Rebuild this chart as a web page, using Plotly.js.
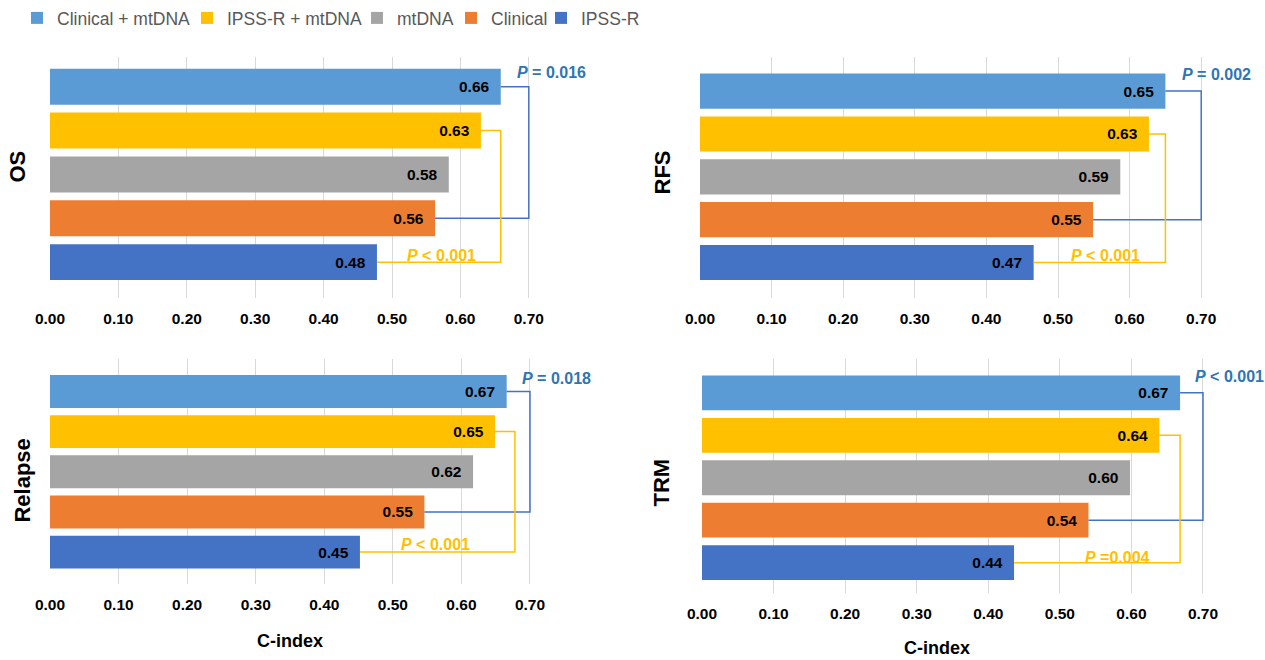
<!DOCTYPE html>
<html>
<head>
<meta charset="utf-8">
<script src="https://cdn.plot.ly/plotly-3.0.1.min.js"></script>
<style>html,body{margin:0;padding:0;background:#fff;}#chart{width:1265px;height:660px;}</style>
</head>
<body>
<div id="chart"></div>
<script>
// ---- data ----
const models = ["Clinical + mtDNA", "IPSS-R + mtDNA", "mtDNA", "Clinical", "IPSS-R"];
const modelColors = ["#5B9BD5", "#FFC000", "#A5A5A5", "#ED7D31", "#4472C4"];
const endpoints = ["OS", "RFS", "Relapse", "TRM"];
const osCindex      = [0.659, 0.630, 0.583, 0.563, 0.478];
const rfsCindex     = [0.650, 0.627, 0.587, 0.549, 0.466];
const relapseCindex = [0.666, 0.649, 0.617, 0.546, 0.452];
const trmCindex     = [0.668, 0.639, 0.598, 0.540, 0.436];
const pBlue   = ["= 0.016", "= 0.002", "= 0.018", "< 0.001"];   // Clinical+mtDNA vs Clinical
const pYellow = ["< 0.001", "< 0.001", "< 0.001", "=0.004"];   // IPSS-R+mtDNA vs IPSS-R
const blueBracketX   = [0.70, 0.70, 0.70, 0.70];
const yellowBracketX = [0.659, 0.650, 0.678, 0.668];
const tickVals = [0, 0.1, 0.2, 0.3, 0.4, 0.5, 0.6, 0.7];
const tickText = ["0.00","0.10","0.20","0.30","0.40","0.50","0.60","0.70"];
const allValues = [osCindex, rfsCindex, relapseCindex, trmCindex];

// ---- layout helpers (pixel geometry) ----
const W = 1265, H = 660;
const fx = p => p / W, fy = p => 1 - p / H;
const FONT = "Arial, 'Liberation Sans', sans-serif";
const panels = [
  {x0: 50,  ppu: 684,   top: 55,  bot: 297, yr: [4.82, -0.68], titleX: 17,  titleY: 165, cx: null},
  {x0: 700, ppu: 716,   top: 55,  bot: 297, yr: [4.83, -0.80], titleX: 662, titleY: 171, cx: null},
  {x0: 50,  ppu: 685.7, top: 358, bot: 584, yr: [4.80, -0.81], titleX: 23,  titleY: 480, cx: [290, 641]},
  {x0: 702, ppu: 715.7, top: 358, bot: 593, yr: [4.72, -0.80], titleX: 662, titleY: 482, cx: [937, 648]}
];
const pBluePos   = [[0.680, -0.32], [0.670, -0.38], [0.685, -0.31], [0.686, -0.38]];
const pYellowPos = [[0.626, 3.84], [0.617, 3.83], [0.615, 3.80], [0.629, 3.87]];
const legendSymbolCenterPx = [37, 207, 377, 471, 561];

const traces = [];
const layout = {
  width: W, height: H,
  margin: {l: 0, r: 0, t: 0, b: 0},
  paper_bgcolor: "#fff", plot_bgcolor: "#fff",
  barmode: "relative",
  font: {family: FONT, color: "#000"},
  showlegend: true,
  annotations: [],
  shapes: []
};
const legendIds = models.map((m, i) => i === 0 ? "legend" : "legend" + (i + 1));
legendIds.forEach((id, i) => {
  layout[id] = {orientation: "h", x: fx(legendSymbolCenterPx[i] - 20), y: 1.003, xanchor: "left", yanchor: "top",
    font: {family: FONT, size: 17.5, color: "#595959"}, itemwidth: 30, bgcolor: "rgba(0,0,0,0)",
    borderwidth: 0};
});

panels.forEach((p, k) => {
  const xa = k === 0 ? "x" : "x" + (k + 1);
  const ya = k === 0 ? "y" : "y" + (k + 1);
  const xKey = k === 0 ? "xaxis" : "xaxis" + (k + 1);
  const yKey = k === 0 ? "yaxis" : "yaxis" + (k + 1);
  const vals = allValues[k];
  const xmax = 0.75;
  layout[xKey] = {
    domain: [fx(p.x0), fx(p.x0 + xmax * p.ppu)], range: [0, xmax], anchor: ya,
    tickvals: tickVals, ticktext: tickText, showgrid: true, gridcolor: "#D9D9D9", gridwidth: 1,
    zeroline: false, showline: false, ticks: "outside", ticklen: 6, tickcolor: "rgba(0,0,0,0)",
    tickfont: {family: FONT, size: 15.5, color: "#000", weight: "bold"}, fixedrange: true
  };
  layout[yKey] = {
    domain: [fy(p.bot), fy(p.top)], range: p.yr, anchor: xa,
    showticklabels: false, showgrid: false, zeroline: false, showline: false, fixedrange: true
  };
  models.forEach((m, i) => {
    traces.push({
      type: "bar", orientation: "h", name: m, legendgroup: m, showlegend: k === 0, legend: legendIds[i],
      x: [vals[i]], y: [i], xaxis: xa, yaxis: ya, width: 0.82,
      marker: {color: modelColors[i]},
      texttemplate: "%{x:.2f}\u00a0\u00a0", textposition: "inside", insidetextanchor: "end",
      constraintext: "none",
      textfont: {family: FONT, size: 15.5, color: "#000", weight: "bold"},
      hoverinfo: "x+name"
    });
  });
  // brackets
  traces.push({type: "scatter", mode: "lines", xaxis: xa, yaxis: ya, showlegend: false, hoverinfo: "skip",
    x: [vals[0], blueBracketX[k], blueBracketX[k], vals[3]], y: [0, 0, 3, 3],
    line: {color: "#4472C4", width: 1.5}});
  traces.push({type: "scatter", mode: "lines", xaxis: xa, yaxis: ya, showlegend: false, hoverinfo: "skip",
    x: [vals[1], yellowBracketX[k], yellowBracketX[k], vals[4]], y: [1, 1, 4, 4],
    line: {color: "#FFC000", width: 1.5}});
  // P annotations
  layout.annotations.push({xref: xa, yref: ya, x: pBluePos[k][0], y: pBluePos[k][1], xanchor: "left", yanchor: "middle",
    showarrow: false, text: "<i>P</i> " + pBlue[k], font: {family: FONT, size: 16, color: "#2E75B6", weight: "bold"}});
  layout.annotations.push({xref: xa, yref: ya, x: pYellowPos[k][0], y: pYellowPos[k][1], xanchor: "right", yanchor: "middle",
    showarrow: false, text: "<i>P</i> " + pYellow[k], font: {family: FONT, size: 16, color: "#FFC000", weight: "bold"}});
  // endpoint titles
  layout.annotations.push({xref: "paper", yref: "paper", x: fx(p.titleX), y: fy(p.titleY), xanchor: "center", yanchor: "middle",
    textangle: -90, showarrow: false, text: endpoints[k], font: {family: FONT, size: 22, color: "#000", weight: "bold"}});
  if (p.cx) {
    layout.annotations.push({xref: "paper", yref: "paper", x: fx(p.cx[0]), y: fy(p.cx[1]), xanchor: "center", yanchor: "middle",
      showarrow: false, text: "C-index", font: {family: FONT, size: 18, color: "#000", weight: "bold"}});
  }
});

Plotly.newPlot("chart", traces, layout, {displayModeBar: false});
</script>
</body>
</html>
